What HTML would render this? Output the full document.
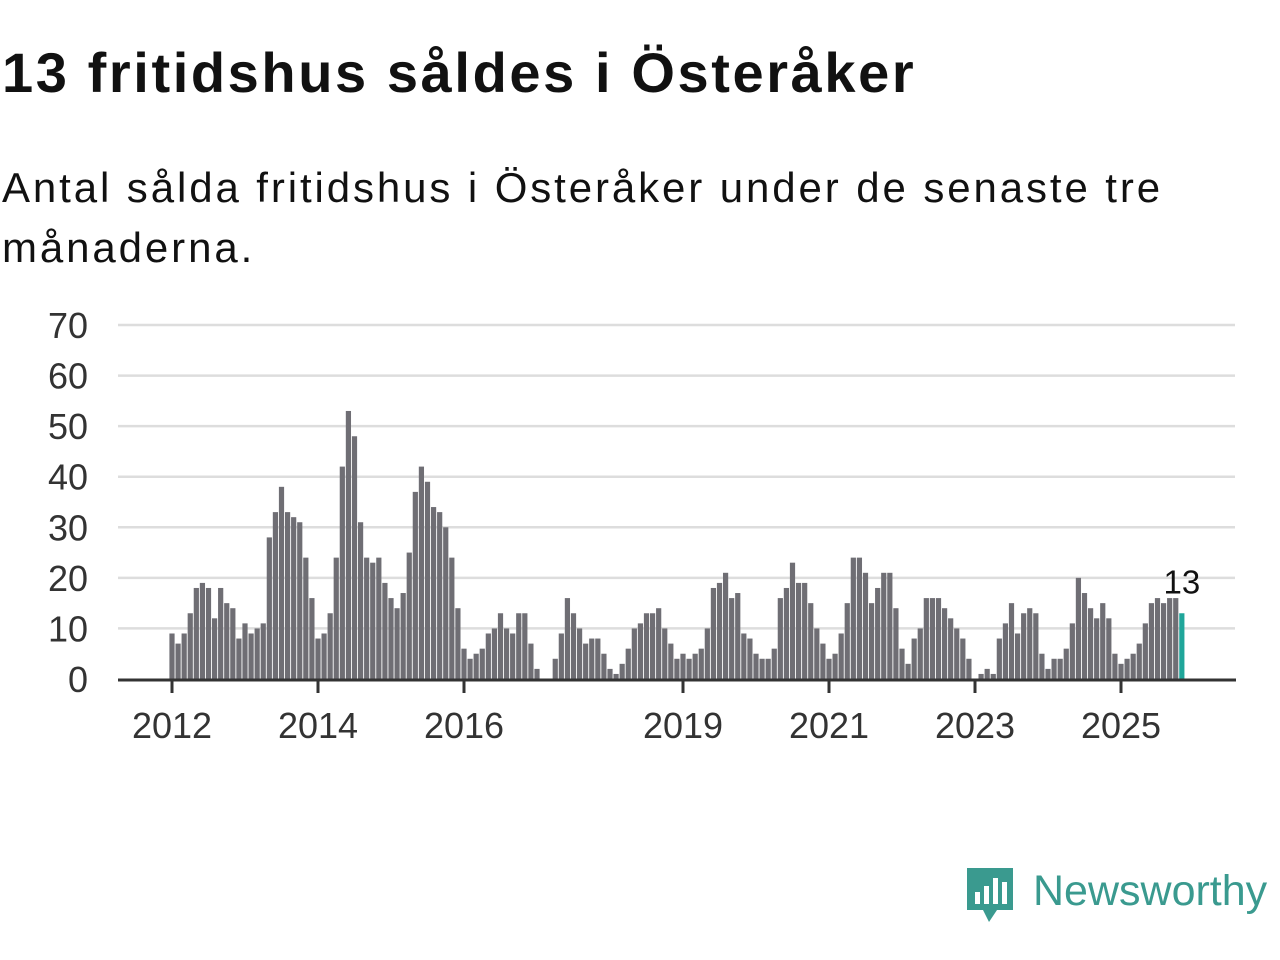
<!DOCTYPE html>
<html><head><meta charset="utf-8"><style>
body{margin:0;width:1280px;height:960px;background:#fff;font-family:"Liberation Sans",sans-serif;overflow:hidden;position:relative}
h1{position:absolute;left:2px;top:40px;margin:0;font-size:56px;letter-spacing:2.6px;font-weight:bold;color:#111}
.sub{position:absolute;left:2px;top:158px;margin:0;font-size:42px;letter-spacing:2.9px;line-height:60px;color:#111;width:1240px}
</style></head><body>
<h1>13 fritidshus såldes i Österåker</h1>
<p class="sub">Antal sålda fritidshus i Österåker under de senaste tre månaderna.</p>
<svg id="chart" width="1280" height="960" style="position:absolute;left:0;top:0"></svg>
<div style="position:absolute;left:965px;top:866px;display:flex;align-items:center">
<svg width="50" height="60"><path d="M2 2h46v42H32l-8 12-6-12H2z" fill="#3a9a8f"/><rect x="10" y="26" width="5" height="12" fill="#fff"/><rect x="19" y="20" width="5" height="18" fill="#fff"/><rect x="28" y="12" width="5" height="26" fill="#fff"/><rect x="37" y="16" width="5" height="22" fill="#fff"/></svg>
<span style="font-size:43px;color:#3a9a8f;margin-left:18px;margin-top:-10px">Newsworthy</span></div>
<script>
const values=[9,7,9,13,18,19,18,12,18,15,14,8,
11,9,10,11,28,33,38,33,32,31,24,16,
8,9,13,24,42,53,48,31,24,23,24,19,
16,14,17,25,37,42,39,34,33,30,24,14,
6,4,5,6,9,10,13,10,9,13,13,7,
2,0,0,4,9,16,13,10,7,8,8,5,
2,1,3,6,10,11,13,13,14,10,7,4,
5,4,5,6,10,18,19,21,16,17,9,8,
5,4,4,6,16,18,23,19,19,15,10,7,
4,5,9,15,24,24,21,15,18,21,21,14,
6,3,8,10,16,16,16,14,12,10,8,4,
0,1,2,1,8,11,15,9,13,14,13,5,
2,4,4,6,11,20,17,14,12,15,12,5,
3,4,5,7,11,15,16,15,16,16,13];
const yTicks=[0,10,20,30,40,50,60,70];
const xYears=[2012,2014,2016,2019,2021,2023,2025];
const startYear=2012;
const svg=document.getElementById('chart');
const NS='http://www.w3.org/2000/svg';
const y0=679,yScale=(354/70);
const xOf=m=>172+m*(1121-172)/(13*12);
const yOf=v=>y0-v*yScale;
function mk(t,a){const e=document.createElementNS(NS,t);for(const k in a)e.setAttribute(k,a[k]);svg.appendChild(e);return e;}
yTicks.forEach(v=>{
 if(v>0){const l=mk('line',{x1:118,x2:1235,y1:yOf(v),y2:yOf(v),stroke:'#ddd','stroke-width':2.5});
 
 }
 const t=mk('text',{x:88,y:yOf(v)+13,'text-anchor':'end','font-size':36,fill:'#333','font-family':'Liberation Sans'});
 t.textContent=v;
 
 
});
values.forEach((v,i)=>{
 const last=i===values.length-1;
 const r=mk('rect',{x:xOf(i)-2.6,y:yOf(v),width:5.2,height:v*yScale,fill:last?'#1fa69a':'#6f6e74'});
 
 
});
const ax=mk('line',{x1:118,x2:1236,y1:y0+1,y2:y0+1,stroke:'#333','stroke-width':3});


xYears.forEach(yr=>{
 const x=xOf((yr-startYear)*12);
 const tk=mk('line',{x1:x,x2:x,y1:y0,y2:y0+14,stroke:'#333','stroke-width':3});
 
 
 const t=mk('text',{x:x,y:738,'text-anchor':'middle','font-size':36,fill:'#333','font-family':'Liberation Sans'});
 t.textContent=yr;
 
 
});
const li=values.length-1;
const lab=mk('text',{x:xOf(li),y:yOf(values[li])-20,'text-anchor':'middle','font-size':33,fill:'#111','font-family':'Liberation Sans'});
lab.textContent=values[li];


</script>
</body></html>
